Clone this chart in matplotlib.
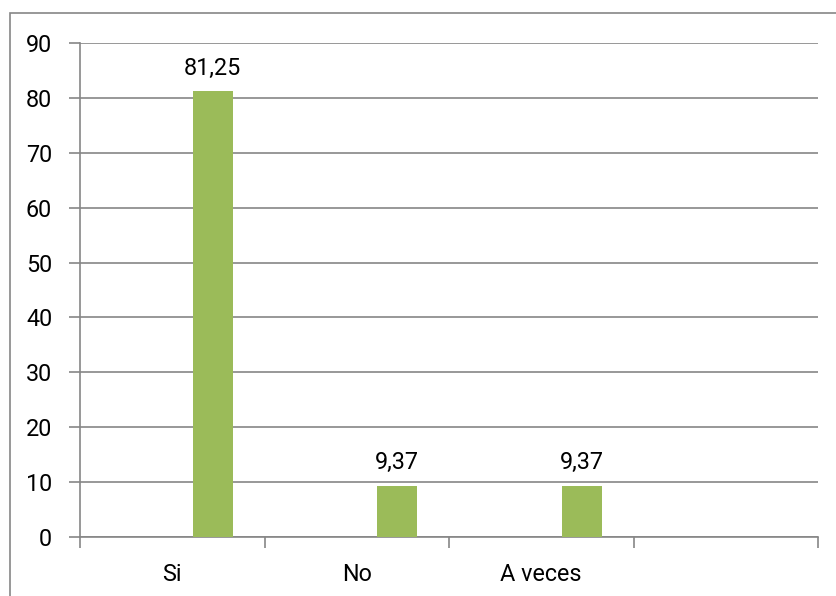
import matplotlib.pyplot as plt
import numpy as np
from matplotlib.patches import Rectangle

categories = ['Si', 'No', 'A veces', '']
values = [81.25, 9.37, 9.37, None]
value_labels = ['81,25', '9,37', '9,37', '']

bar_color = '#9BBB59'
grid_color = '#868686'
fs = 16.8

plt.rcParams['font.family'] = ['Roboto', 'DejaVu Sans']

fig = plt.figure(figsize=(8.37, 5.96), dpi=100)
fig.patches.append(Rectangle((10 / 837, -0.1), 1.2, 1.1 - 13 / 596,
                             transform=fig.transFigure, fill=False,
                             edgecolor=grid_color, linewidth=1.2))
ax = fig.add_axes([80 / 837, 1 - 537 / 596, 738 / 837, 494 / 596])

x = np.arange(len(categories))
offset = 0.22
width = 0.217
for i, (v, lab) in enumerate(zip(values, value_labels)):
    if v is None:
        continue
    ax.bar(x[i] + offset, v, width=width, color=bar_color, zorder=3)
    ax.annotate(lab, (x[i] + offset, v), xytext=(0, 8), textcoords='offset points',
                ha='center', va='bottom', fontsize=fs, color='black')

ax.set_xlim(-0.5, len(categories) - 0.5)
ax.set_ylim(0, 90)
ax.set_yticks(np.arange(0, 91, 10))
ax.yaxis.grid(True, color=grid_color, linewidth=1.2, zorder=0)
ax.set_axisbelow(True)

ax.set_xticks(np.arange(len(categories) + 1) - 0.5)
ax.set_xticklabels([])
ax.set_xticks(x, labels=categories, minor=True)
ax.tick_params(axis='x', which='major', length=8, color=grid_color, width=1.2, direction='out')
ax.tick_params(axis='x', which='minor', length=0, pad=19, labelsize=fs)
ax.tick_params(axis='y', length=8, color=grid_color, width=1.2, pad=12, labelsize=fs)

for s in ['top', 'right']:
    ax.spines[s].set_visible(False)
for s in ['left', 'bottom']:
    ax.spines[s].set_color(grid_color)
    ax.spines[s].set_linewidth(1.2)

fig.savefig('out.png', dpi=100)
